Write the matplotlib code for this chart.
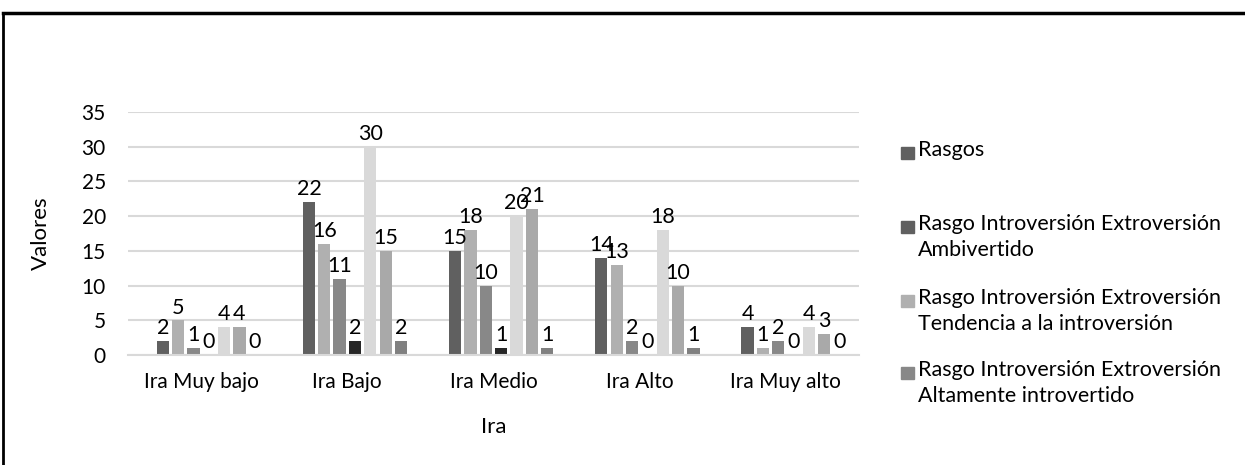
import matplotlib.pyplot as plt
import numpy as np
from matplotlib.patches import Rectangle
from matplotlib.lines import Line2D

plt.rcParams['font.family'] = ['Lato', 'DejaVu Sans']

categories = ['Ira Muy bajo', 'Ira Bajo', 'Ira Medio', 'Ira Alto', 'Ira Muy alto']
series_names = ['Rasgos',
                'Rasgo Introversión Extroversión\nAmbivertido',
                'Rasgo Introversión Extroversión\nTendencia a la introversión',
                'Rasgo Introversión Extroversión\nAltamente introvertido',
                'Serie 5', 'Serie 6', 'Serie 7', 'Serie 8']
# first series has no values
rasgos = [np.nan] * 5
s_ambivertido = [2, 22, 15, 14, 4]
s_tendencia = [5, 16, 18, 13, 1]
s_altamente = [1, 11, 10, 2, 2]
s_5 = [0, 2, 1, 0, 0]
s_6 = [4, 30, 20, 18, 4]
s_7 = [4, 15, 21, 10, 3]
s_8 = [0, 2, 1, 1, 0]
all_series = [rasgos, s_ambivertido, s_tendencia, s_altamente, s_5, s_6, s_7, s_8]
colors = ['#606060', '#606060', '#b0b0b0', '#888888', '#262626', '#d9d9d9', '#a9a9a9', '#808080']

fig = plt.figure(figsize=(12.45, 4.65), dpi=100)
ax = fig.add_axes([128 / 1245, 1 - 355 / 465, (859 - 128) / 1245, (355 - 112) / 465])

x = np.arange(len(categories))
n = len(all_series)
group_w = 0.84
slot = group_w / n
bw = slot * 0.8

for i, (vals, c) in enumerate(zip(all_series, colors)):
    pos = x - group_w / 2 + slot * (i + 0.5)
    v = np.array(vals, dtype=float)
    ax.bar(pos, np.nan_to_num(v), width=bw, color=c, zorder=2)
    for p, val in zip(pos, v):
        if not np.isnan(val):
            ax.text(p, val + 0.4, '%d' % val, ha='center', va='bottom', fontsize=15.5, color='#000000')

ax.set_xlim(-0.5, len(categories) - 0.5)
ax.set_ylim(0, 35)
ax.set_yticks(range(0, 36, 5))
ax.set_xticks(x)
ax.set_xticklabels(categories, fontsize=15)
ax.tick_params(axis='y', labelsize=15, length=0, pad=16)
ax.tick_params(axis='x', length=0, pad=12)
ax.grid(axis='y', color='#d9d9d9', lw=1.5, zorder=0)
for s in ['top', 'right', 'left']:
    ax.spines[s].set_visible(False)
ax.spines['bottom'].set_color('#d9d9d9')
ax.spines['bottom'].set_linewidth(1.5)
ax.set_ylabel('Valores', fontsize=16, labelpad=22)
ax.set_xlabel('Ira', fontsize=16, labelpad=18)

# legend (first four entries, as in the reference)
legend_y = [153, 227, 301, 373]
for name, c, yy in zip(series_names[:4], colors[:4], legend_y):
    fig.patches.append(Rectangle((901 / 1245, 1 - (yy + 6) / 465), 13 / 1245, 12 / 465,
                                 transform=fig.transFigure, color=c, figure=fig))
    fig.text(918 / 1245, 1 - (yy - 13) / 465, name, ha='left', va='top',
             fontsize=15.5, linespacing=1.4)

# frame lines
fig.add_artist(Line2D([3 / 1245, 1], [1 - 13 / 465, 1 - 13 / 465], transform=fig.transFigure,
                      color='black', lw=2.5))
fig.add_artist(Line2D([3 / 1245, 3 / 1245], [0, 1 - 13 / 465], transform=fig.transFigure,
                      color='black', lw=2))

fig.savefig('out.png', dpi=100)
